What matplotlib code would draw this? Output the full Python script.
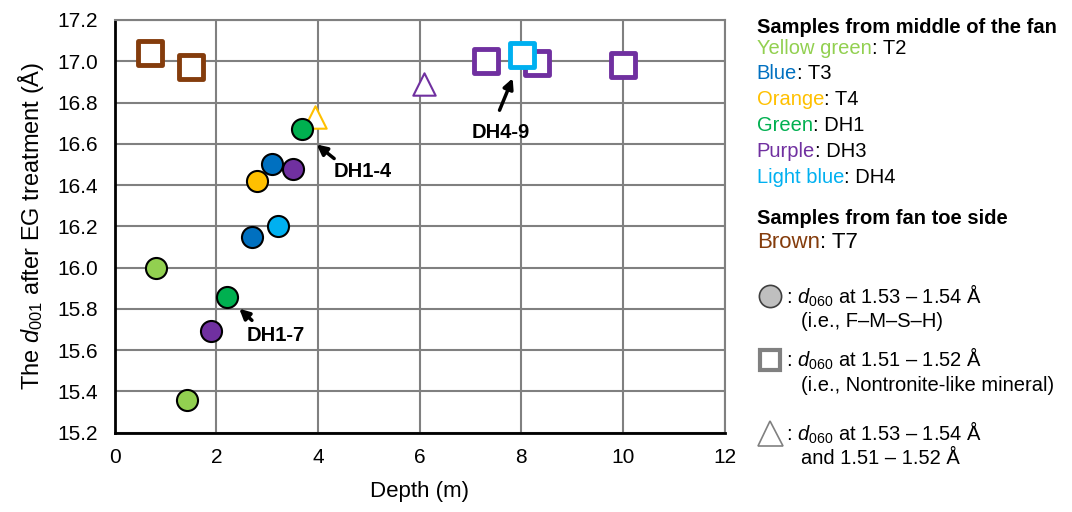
import matplotlib.pyplot as plt

plt.rcParams['font.family'] = ['Liberation Sans', 'DejaVu Sans']
plt.rcParams['mathtext.fontset'] = 'custom'
plt.rcParams['mathtext.it'] = 'Liberation Sans:italic'
plt.rcParams['mathtext.rm'] = 'Liberation Sans'

# depth (m) and d001 (Å) per borehole / trench
t2_x = [0.82, 1.42]
t2_y = [16.00, 15.36]
t3_x = [3.10, 2.71]
t3_y = [16.50, 16.15]
t4_x = [2.80]
t4_y = [16.42]
dh1_x = [3.69, 2.20]
dh1_y = [16.67, 15.855]
dh3_x = [3.51, 1.90]
dh3_y = [16.48, 15.695]
dh4_x = [3.22]
dh4_y = [16.20]

# nontronite-like (squares)
t7_sq_x = [0.70, 1.51]
t7_sq_y = [17.04, 16.97]
dh3_sq_x = [7.30, 8.31, 9.99]
dh3_sq_y = [17.00, 16.99, 16.98]
dh4_sq_x = [8.01]
dh4_sq_y = [17.03]

# mixed (triangles)
t4_tri_x = [3.94]
t4_tri_y = [16.73]
dh3_tri_x = [6.08]
dh3_tri_y = [16.89]

c_yg = '#92D050'
c_blue = '#0070C0'
c_orange = '#FFC000'
c_green = '#00B050'
c_purple = '#7030A0'
c_lblue = '#00B0F0'
c_brown = '#843C0C'

fig = plt.figure(figsize=(10.72, 5.12), dpi=100)
ax = fig.add_axes([0.107, 0.155, 0.569, 0.806])

circ = dict(marker='o', s=230, edgecolors='black', linewidths=1.5, zorder=4)
ax.scatter(t2_x, t2_y, c=c_yg, **circ)
ax.scatter(t3_x, t3_y, c=c_blue, **circ)
ax.scatter(t4_x, t4_y, c=c_orange, **circ)
ax.scatter(dh4_x, dh4_y, c=c_lblue, **circ)
ax.scatter(dh3_x, dh3_y, c=c_purple, **circ)

tri = dict(marker='^', s=260, facecolors='white', linewidths=1.5, zorder=3)
ax.scatter(t4_tri_x, t4_tri_y, edgecolors=c_orange, **tri)
ax.scatter(dh3_tri_x, dh3_tri_y, edgecolors=c_purple, **tri)
ax.scatter(dh1_x, dh1_y, c=c_green, **circ)

sq = dict(marker='s', s=290, facecolors='white', linewidths=3.5, zorder=4)
ax.scatter(t7_sq_x, t7_sq_y, edgecolors=c_brown, **sq)
ax.scatter(dh3_sq_x, dh3_sq_y, edgecolors=c_purple, **sq)
ax.scatter(dh4_sq_x, dh4_sq_y, edgecolors=c_lblue, **sq)

arrow = dict(arrowstyle='-|>', color='black', lw=2.5, mutation_scale=15)
lbl = dict(fontsize=14.5, fontweight='bold')
ax.annotate('', xy=(3.93, 16.605), xytext=(4.36, 16.52), arrowprops=arrow)
ax.text(4.3, 16.44, 'DH1-4', **lbl)
ax.annotate('', xy=(2.41, 15.81), xytext=(2.74, 15.735), arrowprops=arrow)
ax.text(2.6, 15.645, 'DH1-7', **lbl)
ax.annotate('', xy=(7.85, 16.93), xytext=(7.55, 16.75), arrowprops=arrow)
ax.text(7.6, 16.63, 'DH4-9', ha='center', **lbl)

ax.set_xlim(0, 12)
ax.set_ylim(15.2, 17.2)
ax.set_xticks(range(0, 13, 2))
ax.set_yticks([15.2 + 0.2 * i for i in range(11)])
ax.set_yticklabels([f'{15.2 + 0.2 * i:.1f}' for i in range(11)])
ax.grid(True, color='#808080', linewidth=1.5)
ax.set_axisbelow(True)
ax.tick_params(labelsize=15, length=0)
ax.tick_params(axis='y', pad=12)
ax.tick_params(axis='x', pad=11)
for side in ['top', 'right']:
    ax.spines[side].set_color('#808080')
    ax.spines[side].set_linewidth(1.5)
for side in ['left', 'bottom']:
    ax.spines[side].set_color('black')
    ax.spines[side].set_linewidth(2)
ax.set_xlabel('Depth (m)', fontsize=16, labelpad=10)
ax.set_ylabel('The $d_{001}$ after EG treatment (Å)', fontsize=17, labelpad=8)

# side key
fs = 14.5
lx = 0.706
fig.text(lx, 0.947, 'Samples from middle of the fan', fontsize=fs, fontweight='bold', va='center')
key = [('Yellow green', c_yg, ': T2'), ('Blue', c_blue, ': T3'), ('Orange', c_orange, ': T4'),
       ('Green', c_green, ': DH1'), ('Purple', c_purple, ': DH3'), ('Light blue', c_lblue, ': DH4')]
for i, (name, col, rest) in enumerate(key):
    t = fig.text(lx, 0.906 - i * 0.0505, name, color=col, fontsize=fs, va='center')
    ax.annotate(rest, xy=(1, 0.5), xycoords=t, va='center', fontsize=fs)
fig.text(lx, 0.574, 'Samples from fan toe side', fontsize=fs, fontweight='bold', va='center')
t = fig.text(lx, 0.527, 'Brown', color=c_brown, fontsize=16, va='center')
ax.annotate(': T7', xy=(1, 0.5), xycoords=t, va='center', fontsize=16)

kx = 0.718
fig.add_artist(plt.Line2D([kx], [0.422], marker='o', markersize=16, markerfacecolor='#BFBFBF',
                          markeredgecolor='#404040', markeredgewidth=1.2, transform=fig.transFigure))
fig.add_artist(plt.Line2D([kx], [0.297], marker='s', markersize=15, markerfacecolor='white',
                          markeredgecolor='#808080', markeredgewidth=3, transform=fig.transFigure))
fig.add_artist(plt.Line2D([kx], [0.155], marker='^', markersize=18, markerfacecolor='white',
                          markeredgecolor='#808080', markeredgewidth=1.2, transform=fig.transFigure))
tx = 0.733
fig.text(tx, 0.422, ': $d_{060}$ at 1.53 – 1.54 Å', fontsize=fs, va='center')
fig.text(tx + 0.014, 0.372, '(i.e., F–M–S–H)', fontsize=fs, va='center')
fig.text(tx, 0.300, ': $d_{060}$ at 1.51 – 1.52 Å', fontsize=fs, va='center')
fig.text(tx + 0.014, 0.248, '(i.e., Nontronite-like mineral)', fontsize=fs, va='center')
fig.text(tx, 0.155, ': $d_{060}$ at 1.53 – 1.54 Å', fontsize=fs, va='center')
fig.text(tx + 0.014, 0.105, 'and 1.51 – 1.52 Å', fontsize=fs, va='center')

fig.savefig('out.png', dpi=100)
